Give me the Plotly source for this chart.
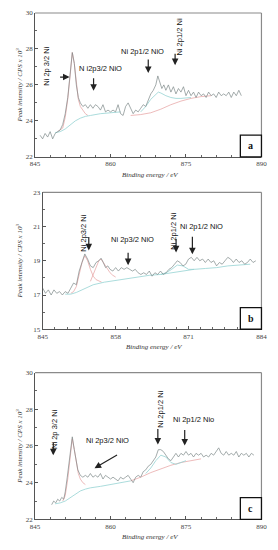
import plotly.graph_objects as go

# the page body has an 8px margin, so the figure is sized to fit the window minus that margin
OFF = 8
W, H = 278 - OFF, 550 - OFF

# ---------------- Panel a data ----------------
a_energy = [846.0, 846.5, 847.0, 847.5, 848.0, 848.5, 849.0, 849.5, 850.0, 850.5, 851.0, 851.5,
            852.0, 852.4, 852.8, 853.2, 853.6, 854.0, 854.5, 855.0, 855.5, 856.0, 856.5, 857.0,
            857.5, 858.0, 858.5, 859.0, 859.5, 860.0, 860.5, 861.0, 861.5, 862.0, 862.5, 863.0,
            863.5, 864.0, 864.5, 865.0, 865.5, 866.0, 866.5, 867.0, 867.5, 868.0, 868.5, 869.0,
            869.4, 869.8, 870.2, 870.6, 871.0, 871.5, 872.0, 872.5, 873.0, 873.5, 874.0, 874.5,
            875.0, 875.5, 876.0, 876.5, 877.0, 877.5, 878.0, 878.5, 879.0, 879.5, 880.0, 880.5,
            881.0, 881.5, 882.0, 882.5, 883.0, 883.5, 884.0, 884.5, 885.0, 885.5, 886.0]
a_counts = [23.2, 23.0, 23.3, 23.1, 23.4, 23.0, 23.3, 23.4, 23.5, 23.8, 24.4, 25.3,
            26.8, 27.8, 27.2, 26.0, 25.3, 25.0, 24.8, 24.9, 24.7, 24.9, 24.7, 24.9,
            24.8, 24.6, 24.9, 24.5, 24.6, 24.5, 24.6, 24.5, 24.9, 24.4, 24.3, 24.8,
            25.0, 24.7, 24.4, 24.6, 24.5, 24.7, 24.9, 24.8, 25.2, 25.5, 25.7, 26.0,
            26.5, 26.2, 25.8, 26.0, 25.7, 26.0, 25.6, 25.9, 25.5, 25.8, 25.6, 25.9,
            25.4, 25.7, 25.4, 25.6, 25.3, 25.6, 25.4, 25.5, 25.3, 25.6, 25.4, 25.5,
            25.3, 25.6, 25.4, 25.5, 25.4, 25.6, 25.3, 25.6, 25.4, 25.7, 25.4]
a_fit1_x = [849.5, 850.5, 851.0, 851.5, 852.0, 852.4, 852.8, 853.2, 853.6, 854.0, 854.5, 855.0, 855.5]
a_fit1_y = [23.4, 23.6, 24.2, 25.2, 26.6, 27.8, 27.2, 26.0, 25.2, 24.8, 24.6, 24.4, 24.3]
a_bg1_x = [849.0, 850.0, 851.0, 852.0, 853.0, 854.0, 855.0, 856.0, 858.0, 860.0, 862.0]
a_bg1_y = [23.35, 23.4, 23.55, 23.8, 24.0, 24.15, 24.25, 24.3, 24.4, 24.45, 24.5]
a_bg2_x = [864.0, 866.0, 868.0, 870.0, 872.0, 874.0, 876.0, 878.0, 880.0]
a_bg2_y = [24.3, 24.35, 24.45, 24.65, 24.9, 25.1, 25.25, 25.35, 25.4]
a_fit2_x = [866.0, 867.0, 868.0, 869.0, 869.5, 870.0, 871.0, 872.0, 873.0, 874.0, 876.0]
a_fit2_y = [24.5, 24.8, 25.2, 25.5, 25.6, 25.55, 25.4, 25.3, 25.25, 25.25, 25.3]

# ---------------- Panel b data ----------------
b_energy = [845.0, 845.5, 846.0, 846.5, 847.0, 847.5, 848.0, 848.5, 849.0, 849.5, 850.0, 850.5,
            851.0, 851.5, 852.0, 852.5, 853.0, 853.5, 854.0, 854.5, 855.0, 855.4, 855.8, 856.2,
            856.6, 857.0, 857.5, 858.0, 858.5, 859.0, 859.5, 860.0, 860.5, 861.0, 861.5, 862.0,
            862.5, 863.0, 863.5, 864.0, 864.5, 865.0, 865.5, 866.0, 866.5, 867.0, 867.5, 868.0,
            868.5, 869.0, 869.5, 870.0, 870.5, 871.0, 871.5, 872.0, 872.5, 873.0, 873.5, 874.0,
            874.5, 875.0, 875.5, 876.0, 876.5, 877.0, 877.5, 878.0, 878.5, 879.0, 879.5, 880.0,
            880.5, 881.0, 881.5, 882.0, 882.5, 883.0]
b_counts = [17.4, 17.1, 17.3, 17.0, 17.3, 17.1, 17.2, 17.0, 17.2, 17.1, 17.4, 17.7,
            17.6, 18.4, 18.9, 19.4, 19.1, 18.7, 18.6, 18.9, 19.0, 19.15, 18.9, 18.6,
            18.7, 18.5, 18.4, 18.6, 18.4, 18.6, 18.5, 18.6, 18.5, 18.4, 18.5, 18.3,
            18.2, 18.3, 18.2, 18.4, 18.1, 18.3, 18.2, 18.4, 18.2, 18.3, 18.5, 18.6,
            18.8, 19.0, 18.9, 18.7, 18.8, 19.1, 19.2, 19.0, 19.2, 19.0, 19.1, 18.9,
            19.1, 18.9, 19.0, 18.7, 18.9, 18.8, 19.0, 19.2, 19.1, 18.9, 19.1, 18.9,
            19.0, 18.8, 18.9, 19.1, 18.9, 19.0]
b_fit1_x = [850.0, 850.5, 851.0, 851.5, 852.0, 852.5, 853.0, 853.5, 854.0, 854.5, 855.0, 855.5]
b_fit1_y = [17.1, 17.2, 17.5, 18.2, 18.9, 19.3, 19.0, 18.5, 18.1, 17.9, 17.8, 17.75]
b_fit2_x = [853.5, 854.0, 854.5, 855.0, 855.4, 856.0, 856.5, 857.0, 857.5, 858.0]
b_fit2_y = [17.8, 18.2, 18.7, 19.0, 19.1, 18.8, 18.5, 18.3, 18.15, 18.05]
b_bg_x = [849.0, 850.0, 851.0, 852.0, 853.0, 854.0, 856.0, 858.0, 860.0, 862.0, 864.0, 866.0,
          868.0, 870.0, 872.0, 874.0, 876.0, 878.0, 880.0, 882.0]
b_bg_y = [17.05, 17.05, 17.15, 17.3, 17.45, 17.6, 17.75, 17.85, 17.95, 18.05, 18.15, 18.2,
          18.3, 18.4, 18.5, 18.55, 18.6, 18.7, 18.75, 18.8]
b_fit3_x = [866.0, 867.0, 868.0, 869.0, 870.0, 871.0, 872.0]
b_fit3_y = [18.2, 18.3, 18.5, 18.75, 18.7, 18.5, 18.5]

# ---------------- Panel c data ----------------
c_energy = [848.3, 848.7, 849.1, 849.5, 849.9, 850.3, 850.7, 851.0, 851.4, 851.8, 852.1, 852.4,
            852.8, 853.1, 853.5, 854.0, 854.5, 855.0, 855.5, 856.0, 856.5, 857.0, 857.5, 858.0,
            858.5, 859.0, 859.5, 860.0, 860.5, 861.0, 861.5, 862.0, 862.5, 863.0, 863.5, 864.0,
            864.5, 865.0, 865.5, 866.0, 866.5, 867.0, 867.5, 868.0, 868.5, 869.0, 869.5, 870.0,
            870.5, 871.0, 871.5, 872.0, 872.5, 873.0, 873.5, 874.0, 874.5, 875.0, 875.5, 876.0,
            876.5, 877.0, 877.5, 878.0, 878.5, 879.0, 879.5, 880.0, 880.5, 881.0, 881.5, 882.0,
            882.5, 883.0, 883.5, 884.0, 884.5, 885.0, 885.5, 886.0, 886.5, 887.0, 887.5, 888.0, 888.5]
c_counts = [22.8, 23.0, 22.9, 23.1, 23.0, 23.2, 23.1, 23.5, 24.3, 25.2, 25.9, 26.5,
            25.8, 25.2, 24.7, 24.4, 24.3, 24.4, 24.3, 24.5, 24.3, 24.4, 24.3, 24.5,
            24.2, 24.4, 24.3, 24.2, 24.3, 24.2, 24.1, 24.3, 24.2, 24.3, 24.4, 24.2,
            24.0, 24.3, 24.4, 24.3, 24.6, 24.7, 24.9, 25.0, 25.2, 25.4, 25.8, 25.8,
            25.7, 25.5, 25.3, 25.2, 25.4, 25.6, 25.4, 25.6, 25.5, 25.7, 25.5, 25.6,
            25.4, 25.6, 25.5, 25.6, 25.4, 25.5, 25.4, 25.6, 25.5, 25.7, 25.9, 25.6,
            25.5, 25.7, 25.5, 25.6, 25.5, 25.7, 25.4, 25.6, 25.5, 25.6, 25.4, 25.6, 25.5]
c_fit1_x = [850.5, 851.0, 851.5, 852.0, 852.4, 852.8, 853.2, 853.6, 854.0, 854.5, 855.0]
c_fit1_y = [23.0, 23.3, 24.2, 25.5, 26.4, 25.8, 25.0, 24.5, 24.2, 24.0, 23.9]
c_bg1_x = [849.0, 850.0, 851.0, 852.0, 853.0, 854.0, 855.0, 856.0, 858.0, 860.0, 862.0, 864.0]
c_bg1_y = [22.85, 22.9, 23.0, 23.2, 23.4, 23.55, 23.65, 23.72, 23.8, 23.9, 24.0, 24.1]
c_bg2_x = [864.0, 866.0, 868.0, 870.0, 872.0, 874.0, 876.0, 878.0]
c_bg2_y = [24.1, 24.3, 24.55, 24.75, 24.95, 25.1, 25.2, 25.3]
c_fit2_x = [867.0, 868.0, 869.0, 870.0, 871.0, 872.0, 873.0, 874.0, 875.0]
c_fit2_y = [24.5, 24.8, 25.2, 25.5, 25.4, 25.1, 25.0, 25.1, 25.2]

# axis settings
ac_xticks = [845, 860, 875, 890]
b_xticks = [845, 858, 871, 884]
ac_yticks = [22, 24, 26, 28, 30]
b_yticks = [15, 17, 19, 21, 23]
x_title = "Binding energy / eV"
y_title = "Peak intensity / CPS x 10<sup>3</sup>"

RAW = "#7d8888"
PINK = "#e8aaaa"
CYAN = "#95d3d3"

# panel geometry in page pixels: (left, right, top, bottom)
geo = {
    "a": (31, 267, 9, 155),
    "b": (39, 267, 191, 330),
    "c": (31, 267, 374, 523),
}

def px(x):
    return (x - OFF) / W

def py(y):
    return 1 - (y - OFF) / H

fig = go.Figure()

panels = [
    ("a", "x", "y", a_energy, a_counts,
     [(a_fit1_x, a_fit1_y, PINK), (a_bg1_x, a_bg1_y, CYAN), (a_bg2_x, a_bg2_y, PINK), (a_fit2_x, a_fit2_y, CYAN)]),
    ("b", "x2", "y2", b_energy, b_counts,
     [(b_fit1_x, b_fit1_y, PINK), (b_fit2_x, b_fit2_y, PINK), (b_bg_x, b_bg_y, CYAN), (b_fit3_x, b_fit3_y, CYAN)]),
    ("c", "x3", "y3", c_energy, c_counts,
     [(c_fit1_x, c_fit1_y, PINK), (c_bg1_x, c_bg1_y, CYAN), (c_bg2_x, c_bg2_y, PINK), (c_fit2_x, c_fit2_y, CYAN)]),
]

for name, xa, ya, ex, cy, comps in panels:
    for cx_, cy_, col in comps:
        fig.add_trace(go.Scatter(x=cx_, y=cy_, mode="lines", line=dict(color=col, width=0.8),
                                 xaxis=xa, yaxis=ya, showlegend=False, hoverinfo="skip"))
    fig.add_trace(go.Scatter(x=ex, y=cy, mode="lines", line=dict(color=RAW, width=0.7),
                             xaxis=xa, yaxis=ya, showlegend=False))

tickfont = dict(family="Liberation Serif", size=7, color="#444")
common_x = dict(showline=True, linecolor="#555", linewidth=1, mirror=False, showgrid=False,
                zeroline=False, ticks="inside", ticklen=3, tickcolor="#555", tickfont=tickfont,
                ticklabeloverflow="allow")
common_y = dict(showline=True, linecolor="#555", linewidth=1, mirror=False, showgrid=False,
                zeroline=False, ticks="inside", ticklen=3, tickcolor="#555", tickfont=tickfont,
                ticklabeloverflow="allow")

layout = dict(width=W, height=H, margin=dict(l=0, r=0, t=0, b=0),
              paper_bgcolor="white", plot_bgcolor="white", showlegend=False)

axis_specs = {
    "a": ("xaxis", "yaxis", [845, 890], ac_xticks, 3, [22, 30], ac_yticks),
    "b": ("xaxis2", "yaxis2", [845, 884], b_xticks, 13 / 6, [15, 23], b_yticks),
    "c": ("xaxis3", "yaxis3", [845, 890], ac_xticks, 3, [22, 30], ac_yticks),
}
anchors = {"a": ("y", "x"), "b": ("y2", "x2"), "c": ("y3", "x3")}

shapes = []
annotations = []
for key, (xk, yk, xr, xt, xminor, yr, yt) in axis_specs.items():
    l, r, t, b = geo[key]
    layout[xk] = dict(common_x, range=xr, tickvals=xt, ticktext=[str(v) for v in xt],
                      domain=[px(l), px(r)], anchor=anchors[key][0],
                      minor=dict(dtick=xminor, tick0=xr[0], ticks="inside", ticklen=2, tickcolor="#666"))
    layout[yk] = dict(common_y, range=yr, tickvals=yt, ticktext=[str(v) for v in yt],
                      domain=[py(b), py(t)], anchor=anchors[key][1],
                      minor=dict(dtick=1, tick0=yr[0], ticks="inside", ticklen=2, tickcolor="#666"))
    # gray top and right frame
    shapes.append(dict(type="line", xref="paper", yref="paper", x0=px(l), x1=px(r), y0=py(t), y1=py(t),
                       line=dict(color="#8a8a8a", width=1.2)))
    shapes.append(dict(type="line", xref="paper", yref="paper", x0=px(r), x1=px(r), y0=py(t), y1=py(b),
                       line=dict(color="#8a8a8a", width=1.2)))
    # letter box
    shapes.append(dict(type="rect", xref="paper", yref="paper", x0=px(245), x1=px(r), y0=py(b), y1=py(b - 22),
                       line=dict(color="#111", width=1.3), fillcolor="white"))
    annotations.append(dict(text="<b>%s</b>" % key, xref="paper", yref="paper", x=px(256), y=py(b - 11),
                            showarrow=False, font=dict(family="Liberation Serif", size=10, color="#111"),
                            xanchor="center", yanchor="middle"))
    # axis titles
    annotations.append(dict(text="<i>%s</i>" % x_title, xref="paper", yref="paper",
                            x=px((l + r) / 2 + 2), y=py(b + 18), showarrow=False,
                            font=dict(family="Liberation Serif", size=7, color="#333"),
                            xanchor="center", yanchor="middle"))
    annotations.append(dict(text="<i>%s</i>" % y_title, xref="paper", yref="paper",
                            x=px(15), y=py((t + b) / 2), showarrow=False, textangle=-90,
                            font=dict(family="Liberation Serif", size=7, color="#333"),
                            xanchor="center", yanchor="middle"))

LFONT = dict(family="Liberation Sans", size=7.5, color="#111")

def label(text, x, y, rot=False):
    annotations.append(dict(text=text, xref="paper", yref="paper", x=px(x), y=py(y), showarrow=False,
                            textangle=-90 if rot else 0, font=LFONT, xanchor="center", yanchor="middle"))

def arrow(x0, y0, x1, y1):
    annotations.append(dict(text="", xref="paper", yref="paper", x=px(x1), y=py(y1),
                            ax=x0 - x1, ay=y0 - y1, axref="pixel", ayref="pixel",
                            showarrow=True, arrowhead=2, arrowsize=1.1, arrowwidth=1.2, arrowcolor="#222"))

# panel a labels
label("Ni 2p 3/2 Ni", 43, 63, rot=True)
arrow(56, 74, 67, 74)
label("N i2p3/2 NiO", 99, 65)
arrow(92, 74, 92, 88)
label("Ni 2p1/2 NiO", 143, 48)
arrow(149, 55, 149, 70)
label("Ni 2p1/2 Ni", 182, 33, rot=True)
arrow(177, 49, 177, 62)

# panel b labels
label("Ni 2p3/2 Ni", 82, 232, rot=True)
arrow(87, 235, 87, 250)
label("Ni 2p3/2 NiO", 133, 239)
arrow(128, 251, 128, 265)
label("Ni 2p1/2 Ni", 176, 231, rot=True)
arrow(178, 237, 178, 252)
label("Ni 2p1/2 NiO", 205, 226)
arrow(195, 235, 195, 254)

# panel c labels
label("Ni 2p 3/2 Ni", 52, 431, rot=True)
arrow(50, 444, 50, 458)
label("Ni 2p3/2 NiO", 107, 443)
arrow(117, 457, 93, 471)
label("Ni 2p1/2 Ni", 161, 411, rot=True)
arrow(159, 430, 159, 447)
label("Ni 2p1/2 Nio", 196, 422)
arrow(187, 431, 187, 448)

layout["shapes"] = shapes
layout["annotations"] = annotations
fig.update_layout(**layout)
fig.write_html("out.html")
